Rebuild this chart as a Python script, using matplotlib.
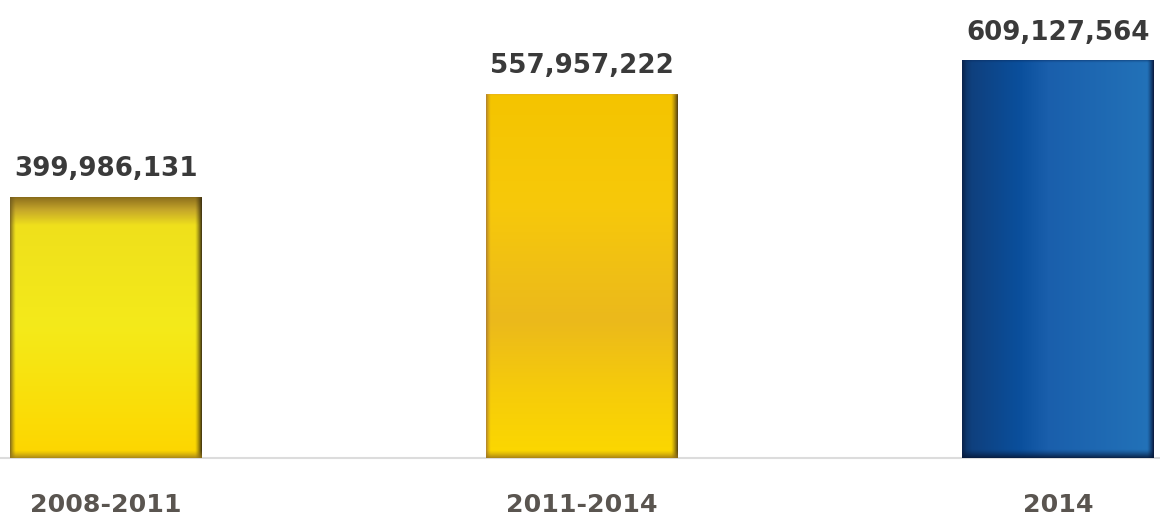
import numpy as np
import matplotlib.pyplot as plt
from matplotlib.colors import to_rgb

# data
periods = ['2008-2011', '2011-2014', '2014']
totals = [399986131, 557957222, 609127564]

# fill styles for each bar: (direction, colour stops, edge bevels)
fills = [
    ('v', [(0.0, '#8a6c1c'), (0.05, '#c4a52a'), (0.11, '#efe01c'), (0.5, '#f4ea1a'),
           (0.85, '#fbdc06'), (1.0, '#fdd500')],
     {'left': ('#6e5a20', 6, 0.9), 'right': ('#3a2e10', 7, 1.0),
      'bottom': ('#9a7a1c', 8, 0.85), 'top': ('#7a6018', 3, 0.6)}),
    ('v', [(0.0, '#f4c400'), (0.3, '#f7c90a'), (0.62, '#ebb91c'), (0.82, '#f6cc0a'),
           (1.0, '#fcd800')],
     {'left': ('#a87832', 5, 0.9), 'right': ('#4e3c14', 7, 1.0),
      'bottom': ('#9a7418', 8, 0.85), 'top': ('#d89a40', 3, 0.7)}),
    ('h', [(0.0, '#0b3060'), (0.05, '#0f407e'), (0.3, '#0a4f9c'), (0.45, '#1a5fac'),
           (1.0, '#2373b9')],
     {'left': ('#0a2048', 5, 0.85), 'right': ('#08163a', 7, 1.0),
      'bottom': ('#061838', 9, 0.9), 'top': ('#0a2a5c', 3, 0.5)}),
]


def ramp(stops, n):
    pos = np.array([s[0] for s in stops])
    cols = np.array([to_rgb(s[1]) for s in stops])
    t = np.linspace(0, 1, n)
    return np.stack([np.interp(t, pos, cols[:, k]) for k in range(3)], axis=-1)


def bar_image(nx, ny, direction, stops, edges):
    if direction == 'v':
        img = np.repeat(ramp(stops, ny)[:, None, :], nx, axis=1)
    else:
        img = np.repeat(ramp(stops, nx)[None, :, :], ny, axis=0)
    xx = np.arange(nx)[None, :] + 0.5
    yy = np.arange(ny)[:, None] + 0.5
    dist = {'left': np.broadcast_to(xx, (ny, nx)),
            'right': np.broadcast_to(nx - xx, (ny, nx)),
            'top': np.broadcast_to(yy, (ny, nx)),
            'bottom': np.broadcast_to(ny - yy, (ny, nx))}
    for side, (col, width, strength) in edges.items():
        w = np.clip(1 - dist[side] / width, 0, 1) ** 1.3 * strength
        img = img * (1 - w[..., None]) + np.array(to_rgb(col)) * w[..., None]
    return img


fig = plt.figure(figsize=(11.6, 5.19), dpi=100)
ax = fig.add_axes([0, 61 / 519, 1, 458 / 519])

x = np.arange(len(periods))
bars = ax.bar(x, totals, width=0.403, color='#f0d000', linewidth=0, zorder=2)

ax.set_xlim(-106 / 476, 2 + 102 / 476)
ax.set_ylim(0, 458 / 652.6 * 1e9)

# pixel scale to keep the bevels a fixed width
p0 = ax.transData.transform((0, 0))
p1 = ax.transData.transform((1, 1e8))
px_x = p1[0] - p0[0]
px_y = (p1[1] - p0[1]) / 1e8

for patch, (direction, stops, edges) in zip(bars, fills):
    x0, w, h = patch.get_x(), patch.get_width(), patch.get_height()
    nx = int(round(w * px_x))
    ny = int(round(h * px_y))
    img = bar_image(nx, ny, direction, stops, edges)
    im = ax.imshow(img, extent=[x0, x0 + w, 0, h], aspect='auto',
                   interpolation='bilinear', zorder=3)
    im.set_clip_path(patch)

ax.set_xlim(-106 / 476, 2 + 102 / 476)
ax.set_ylim(0, 458 / 652.6 * 1e9)

for xi, v in zip(x, totals):
    ax.annotate('{:,}'.format(v), (xi, v), xytext=(0, 15), textcoords='offset points',
                ha='center', va='baseline', fontsize=18.8, fontweight='bold',
                color='#3a3a3a', family='DejaVu Sans')

ax.set_xticks(x)
ax.set_xticklabels(periods, fontsize=18.2, fontweight='bold', color='#5a5550',
                   family='DejaVu Sans')
ax.tick_params(axis='x', length=0, pad=25)
ax.set_yticks([])

for side in ['top', 'left', 'right']:
    ax.spines[side].set_visible(False)
ax.spines['bottom'].set_color('#dcdcdc')
ax.spines['bottom'].set_linewidth(1.5)
ax.spines['bottom'].set_zorder(1)

fig.savefig('out.png', dpi=100)
